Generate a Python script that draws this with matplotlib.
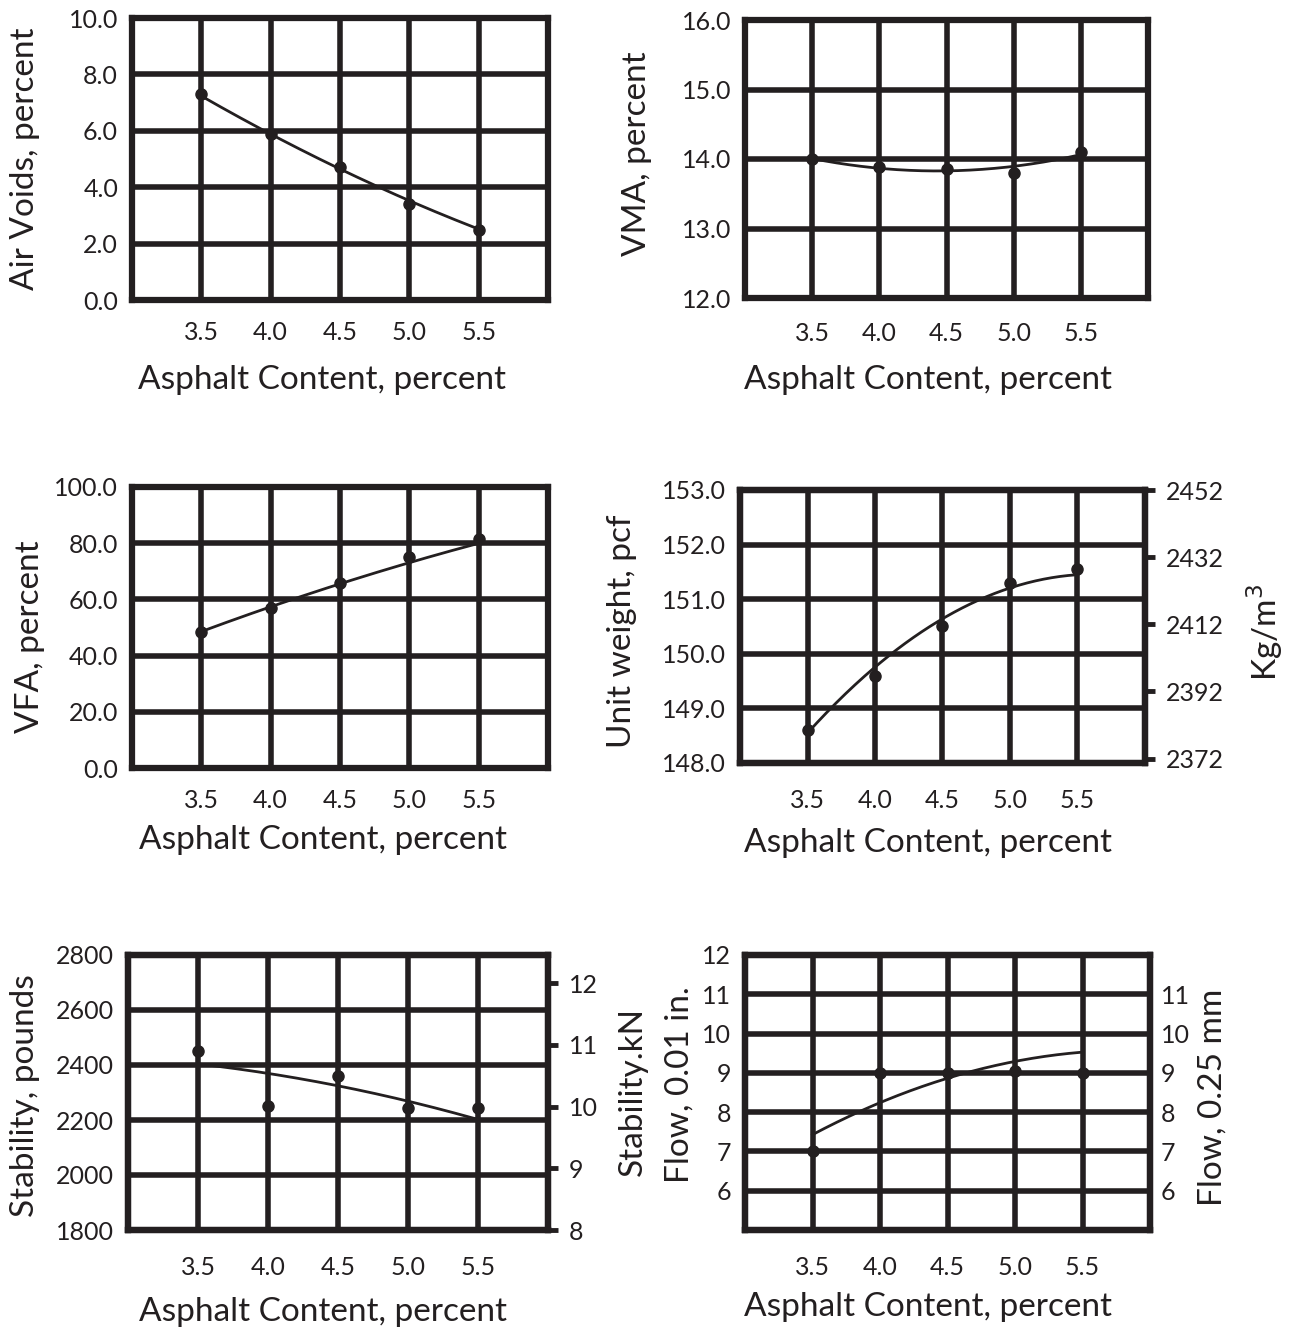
import numpy as np
import matplotlib.pyplot as plt

plt.rcParams['font.family'] = ['Lato', 'DejaVu Sans']

INK = '#231f20'
W, H = 1291, 1332

# asphalt content shared by all six charts
asphalt = [3.5, 4.0, 4.5, 5.0, 5.5]
asphalt_labels = ['3.5', '4.0', '4.5', '5.0', '5.5']

# measured points and the hand-drawn trend values at the same contents
air_voids = [7.3, 5.9, 4.7, 3.4, 2.5]
air_voids_trend = [7.2, 5.95, 4.65, 3.45, 2.55]

vma = [14.0, 13.88, 13.85, 13.8, 14.1]
vma_trend = [14.0, 13.88, 13.83, 13.88, 14.07]

vfa = [48.5, 57.0, 66.0, 75.0, 81.5]
vfa_trend = [48.5, 57.5, 65.5, 73.0, 80.0]

unit_weight = [148.6, 149.6, 150.5, 151.3, 151.55]
unit_weight_trend = [148.55, 149.75, 150.65, 151.2, 151.45]

stability = [2450, 2250, 2360, 2245, 2245]
stability_trend = [2400, 2378, 2322, 2263, 2205]

flow = [7.0, 9.0, 9.0, 9.05, 9.0]
flow_trend = [7.4, 8.3, 8.85, 9.25, 9.55]

LB_TO_KN = 0.004448
PCF_TO_KGM3 = 16.018

LABEL_SIZE = 24
TICK_SIZE = 18


def axes_at(fig, left, right, top, bottom):
    return fig.add_axes([left / W, 1 - bottom / H, (right - left) / W, (bottom - top) / H])


def label_at(fig, x, y, text, rotation=0):
    fig.text(x / W, 1 - y / H, text, rotation=rotation, ha='center', va='center',
             fontsize=LABEL_SIZE, color=INK)


def panel(ax, values, trend, ylim, yticks, ylabels, hgrid, xpad=15):
    ax.set_xlim(3.0, 6.0)
    ax.set_ylim(*ylim)
    for gx in asphalt:
        ax.axvline(gx, color=INK, lw=4, zorder=1)
    for gy in hgrid:
        ax.axhline(gy, color=INK, lw=4, zorder=1)
    coef = np.polyfit(asphalt, trend, 2)
    xs = np.linspace(asphalt[0], asphalt[-1], 200)
    ax.plot(xs, np.polyval(coef, xs), color=INK, lw=2, zorder=3)
    ax.plot(asphalt, values, 'o', color=INK, ms=8, zorder=4)
    ax.set_xticks(asphalt, asphalt_labels)
    ax.set_yticks(yticks, ylabels)
    ax.tick_params(length=0, labelsize=TICK_SIZE, labelcolor=INK)
    ax.tick_params(axis='x', pad=xpad)
    ax.tick_params(axis='y', pad=10)
    for s in ax.spines.values():
        s.set_linewidth(4.5)
        s.set_color(INK)


def right_axis(ax, ylim, yticks, ylabels, ticklen):
    r = ax.twinx()
    r.set_ylim(*ylim)
    r.set_yticks(yticks, ylabels)
    r.tick_params(length=ticklen, width=3.5, color=INK, labelsize=TICK_SIZE,
                  labelcolor=INK, pad=8)
    for s in r.spines.values():
        s.set_linewidth(4.5)
        s.set_color(INK)
    return r


fig = plt.figure(figsize=(W / 100, H / 100), dpi=100)

# Air voids
ax1 = axes_at(fig, 132, 548, 18, 300)
panel(ax1, air_voids, air_voids_trend, (0, 10), np.arange(0, 10.1, 2),
      [f'{v:.1f}' for v in np.arange(0, 10.1, 2)], [2, 4, 6, 8])
label_at(fig, 25, 159, 'Air Voids, percent', rotation=90)
label_at(fig, 322, 380, 'Asphalt Content, percent')

# VMA
ax2 = axes_at(fig, 745, 1148, 20, 298)
panel(ax2, vma, vma_trend, (12, 16), np.arange(12, 16.1, 1),
      [f'{v:.1f}' for v in np.arange(12, 16.1, 1)], [13, 14, 15], xpad=17)
label_at(fig, 637, 154, 'VMA, percent', rotation=90)
label_at(fig, 928, 380, 'Asphalt Content, percent')

# VFA
ax3 = axes_at(fig, 132, 548, 487, 768)
panel(ax3, vfa, vfa_trend, (0, 100), np.arange(0, 101, 20),
      [f'{v:.1f}' for v in np.arange(0, 101, 20)], [20, 40, 60, 80])
label_at(fig, 30, 637, 'VFA, percent', rotation=90)
label_at(fig, 323, 840, 'Asphalt Content, percent')

# Unit weight, pcf and kg/m3
ax4 = axes_at(fig, 740, 1145, 490, 763)
panel(ax4, unit_weight, unit_weight_trend, (148, 153), np.arange(148, 153.1, 1),
      [f'{v:.1f}' for v in np.arange(148, 153.1, 1)], [149, 150, 151, 152], xpad=19)
kg = [2372, 2392, 2412, 2432, 2452]
right_axis(ax4, (148 * PCF_TO_KGM3, 153 * PCF_TO_KGM3), kg, [str(k) for k in kg], 7)
label_at(fig, 622, 631, 'Unit weight, pcf', rotation=90)
label_at(fig, 1265, 632, 'Kg/m$^3$', rotation=90)
label_at(fig, 928, 843, 'Asphalt Content, percent')

# Stability, pounds and kN
ax5 = axes_at(fig, 128, 548, 955, 1230)
lbs = [1800, 2000, 2200, 2400, 2600, 2800]
panel(ax5, stability, stability_trend, (1800, 2800), lbs, [str(v) for v in lbs],
      [2000, 2200, 2400, 2600], xpad=19)
kn = [8, 9, 10, 11, 12]
right_axis(ax5, (1800 * LB_TO_KN, 2800 * LB_TO_KN), kn, [str(k) for k in kn], 7)
label_at(fig, 25, 1096, 'Stability, pounds', rotation=90)
label_at(fig, 633, 1092, 'Stability.kN', rotation=90)
label_at(fig, 323, 1312, 'Asphalt Content, percent')

# Flow, 0.01 in. and 0.25 mm
ax6 = axes_at(fig, 745, 1150, 955, 1230)
flow_ticks = [6, 7, 8, 9, 10, 11, 12]
panel(ax6, flow, flow_trend, (5, 12), flow_ticks, [str(v) for v in flow_ticks],
      [6, 7, 8, 9, 10, 11], xpad=19)
mm = [6, 7, 8, 9, 10, 11]
right_axis(ax6, (5, 12), mm, [str(v) for v in mm], 0)
label_at(fig, 680, 1085, 'Flow, 0.01 in.', rotation=90)
label_at(fig, 1213, 1097, 'Flow, 0.25 mm', rotation=90)
label_at(fig, 928, 1307, 'Asphalt Content, percent')

fig.savefig('out.png', dpi=100, facecolor='white')
